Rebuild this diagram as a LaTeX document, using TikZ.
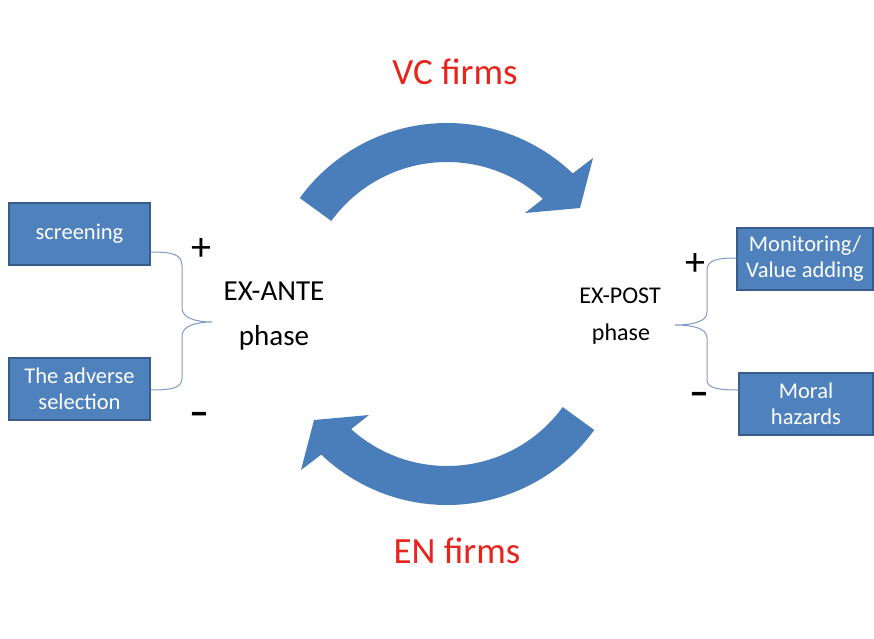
\documentclass[tikz,border=0pt]{standalone}
\usepackage{fontspec}
\setmainfont{Carlito}
\usetikzlibrary{calc}

\definecolor{boxblue}{HTML}{4F81BD}
\definecolor{boxedge}{HTML}{385D8A}
\definecolor{arrowblue}{HTML}{4A7EBA}
\definecolor{firmred}{RGB}{232,36,30}
\definecolor{bracecol}{RGB}{128,156,196}

% one thick curved arrow of the cycle (upper one); the lower one is the same shape turned half round
\newcommand{\bentarrow}{%
  \fill[arrowblue] (447,333) ++(144:182pt) arc[start angle=144, end angle=46.3, radius=182pt]
    -- (593,480) -- (580,430) -- (525,425)
    -- ($(447,333)+(47.9:143pt)$) arc[start angle=47.9, end angle=144, radius=143pt] -- cycle;}

\tikzset{
  infobox/.style={rectangle, draw=boxedge, line width=1.3pt, fill=boxblue, text=white,
    minimum width=141pt, minimum height=62pt, inner sep=0pt, align=center,
    font=\fontsize{22.5}{26}\selectfont},
  firmlabel/.style={text=firmred, font=\fontsize{37}{44}\selectfont, inner sep=0pt},
  phasebig/.style={font=\fontsize{29}{34}\selectfont, inner sep=0pt},
  phasesmall/.style={font=\fontsize{24}{29}\selectfont, inner sep=0pt},
  plusmark/.style={font=\fontsize{40}{46}\selectfont, inner sep=0pt},
  minusmark/.style={font=\fontsize{40}{46}\bfseries\selectfont, inner sep=0pt},
  bracecurve/.style={draw=bracecol, line width=1pt},
}

\begin{document}
\begin{tikzpicture}[x=1pt, y=1pt]
  \useasboundingbox[fill=white] (0,0) rectangle (874,638);

  % cycle arrows
  \bentarrow
  \begin{scope}[rotate around={180:(447,324)}]
    \bentarrow
  \end{scope}

  % headings
  \node[firmlabel, anchor=base] (vc) at (455,553) {VC firms};
  \node[firmlabel, anchor=base] (en) at (457,75) {EN firms};

  % phases
  \node[phasebig, anchor=base] (ante) at (274,338) {EX-ANTE};
  \node[phasebig, anchor=base] (antephase) at (274,293) {phase};
  \node[phasesmall, anchor=base] (post) at (620,335) {EX-POST};
  \node[phasesmall, anchor=base] (postphase) at (621,298) {phase};

  % boxes
  \node[infobox] (scr) at (79.5,404) {screening};
  \node[infobox] (adv) at (79.5,249) {The adverse\\selection};
  \node[infobox, minimum width=136pt] (mon) at (805,379) {Monitoring/\\Value adding};
  \node[infobox, minimum width=134pt] (mor) at (806,234) {Moral\\hazards};

  % signs
  \node[plusmark] (lplus) at (201,388) {+};
  \node[minusmark] (lminus) at (199,219) {–};
  \node[plusmark] (rplus) at (695,373) {+};
  \node[minusmark] (rminus) at (699,239) {–};

  % braces
  \coordinate (lb1) at ($(scr.east)+(0,-18)$);
  \coordinate (lb2) at ($(adv.east)+(0,-1)$);
  \coordinate (ltip) at (212,316);
  \draw[bracecurve] (lb1) .. controls (172,386) and (182,384) .. (182,372)
    -- (182,330) .. controls (182,320) and (196,316) .. (ltip)
    .. controls (196,316) and (182,312) .. (182,302)
    -- (182,260) .. controls (182,250) and (172,248) .. (lb2);

  \coordinate (rb1) at ($(mon.west)+(0,1)$);
  \coordinate (rb2) at ($(mor.west)+(0,14)$);
  \coordinate (rtip) at (675,313);
  \draw[bracecurve] (rb1) .. controls (718,380) and (707,378) .. (707,368)
    -- (707,326) .. controls (707,316) and (692,313) .. (rtip)
    .. controls (692,313) and (707,310) .. (707,300)
    -- (707,258) .. controls (707,250) and (718,248) .. (rb2);
\end{tikzpicture}
\end{document}
